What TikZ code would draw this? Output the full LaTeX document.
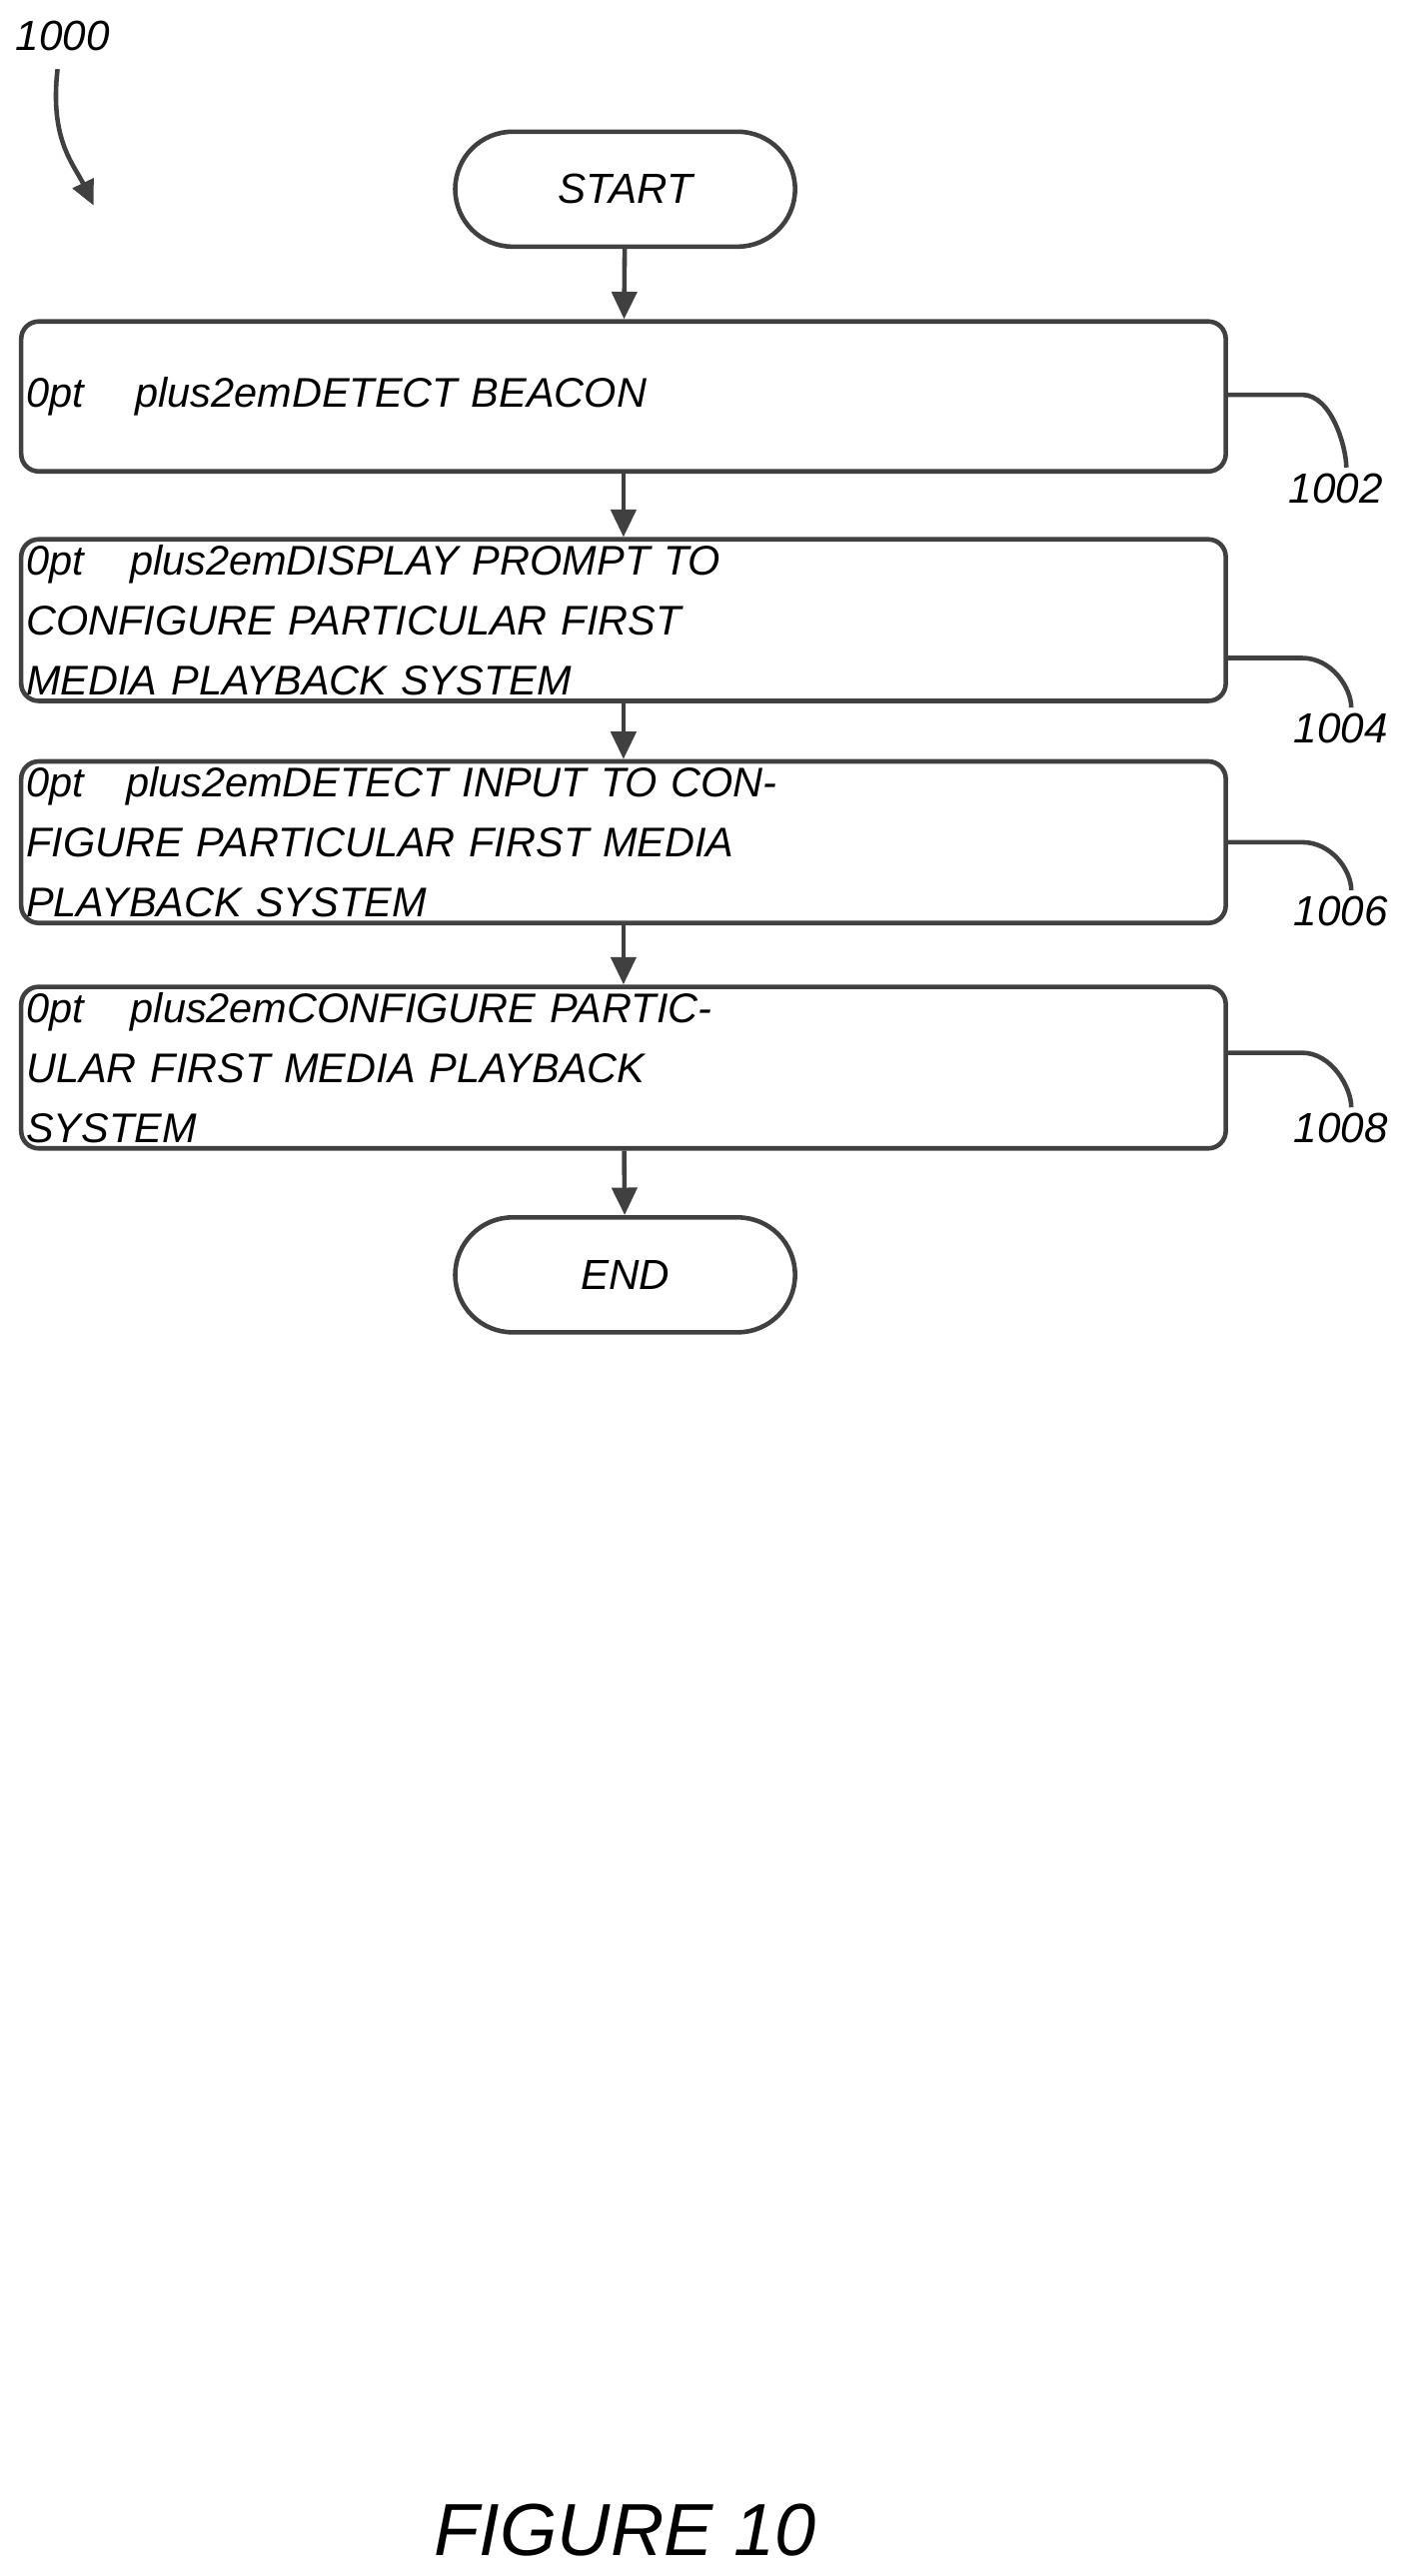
\documentclass[tikz,border=0pt]{standalone}
\usepackage{fontspec}
\setmainfont{Liberation Sans}
\usetikzlibrary{arrows.meta}
\begin{document}
\begin{tikzpicture}[x=0.03292cm,y=-0.03292cm,
  ln/.style={draw=black!75,line width=2.6pt},
  box/.style={ln,rounded corners=0.35cm,text width=23.9cm,inner xsep=0.1cm,minimum height=3cm,align=center,font=\itshape\fontsize{23.6}{34}\selectfont\hyphenpenalty=10000},
  term/.style={ln,rounded corners=1.15cm,minimum width=6.8cm,minimum height=2.3cm,font=\itshape\fontsize{24}{30}\selectfont},
  arr/.style={ln,-{Triangle[length=0.55cm,width=0.5cm]}},
  lbl/.style={font=\itshape\fontsize{24}{30}\selectfont}]
\useasboundingbox (0,0) rectangle (853,1566);
\node[term] (s) at (380,115) {START};
\node[box] (b1) at (379,241) {DETECT BEACON};
\node[box] (b2) at (379,377) {DISPLAY PROMPT TO CONFIGURE PARTICULAR FIRST\\MEDIA PLAYBACK SYSTEM};
\node[box] (b3) at (379,512) {DETECT INPUT TO CONFIGURE PARTICULAR FIRST MEDIA\\PLAYBACK SYSTEM};
\node[box] (b4) at (379,649) {CONFIGURE PARTICULAR FIRST MEDIA PLAYBACK\\SYSTEM};
\node[term] (e) at (380,775) {END};
\draw[arr] (s) -- (b1);
\draw[arr] (b1) -- (b2);
\draw[arr] (b2) -- (b3);
\draw[arr] (b3) -- (b4);
\draw[arr] (b4) -- (e);
\node[lbl] (l0) at (38,22) {1000};
\node[lbl] (l1) at (812,297) {1002};
\node[lbl] (l2) at (815,443) {1004};
\node[lbl] (l3) at (815,554) {1006};
\node[lbl] (l4) at (815,686) {1008};
\coordinate (a0) at (35,42);
\coordinate (a1) at (57,125);
\draw[ln,-{Triangle[length=0.5cm,width=0.45cm]}] (a0) .. controls (30,85) and (45,100) .. (a1);
\foreach \b/\l/\yy in {b1/l1/240,b2/l2/400,b3/l3/512,b4/l4/640}{
  \draw[ln] (\b.east |- 0,\yy) -- ++(45,0) .. controls ++(18,0) and ++(0,-12) .. ([xshift=6pt]\l.north);
}
\node[font=\itshape\fontsize{42}{50}\selectfont] (fig) at (380,1538) {FIGURE 10};
\end{tikzpicture}
\end{document}
